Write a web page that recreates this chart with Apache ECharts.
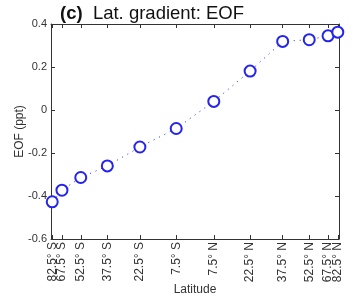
<!DOCTYPE html>
<html>
<head>
<meta charset="utf-8">
<script src="https://cdn.jsdelivr.net/npm/echarts@6/dist/echarts.min.js"></script>
<style>html,body{margin:0;padding:0;background:#fff}#c{width:362px;height:299px}</style>
</head>
<body>
<div id="c"></div>
<script>
const latitudes = [-82.5, -67.5, -52.5, -37.5, -22.5, -7.5, 7.5, 22.5, 37.5, 52.5, 67.5, 82.5];
const latLabels = ['82.5° S', '67.5° S', '52.5° S', '37.5° S', '22.5° S', '7.5° S',
                   '7.5° N', '22.5° N', '37.5° N', '52.5° N', '67.5° N', '82.5° N'];
const eofValues = [-0.427, -0.373, -0.314, -0.260, -0.172, -0.086, 0.040, 0.181, 0.319, 0.327, 0.345, 0.362];
const yTicks = [-0.6, -0.4, -0.2, 0, 0.2, 0.4];

const FONT = 'Liberation Sans, Arial, Helvetica, sans-serif';
const AX = '#333';
const BLUE = '#2424ee';

// x positions: area-weighted latitude scale (sine of latitude)
const xPos = latitudes.map(l => Math.sin(l * Math.PI / 180));
const labelFor = v => {
  let best = 0;
  xPos.forEach((p, i) => { if (Math.abs(p - v) < Math.abs(xPos[best] - v)) best = i; });
  return latLabels[best];
};
const innerPos = xPos.slice(1, -1);
const edgePos = [xPos[0], xPos[xPos.length - 1]];

const labelStyle = {
  show: true, rotate: 90, margin: 3, hideOverlap: false,
  fontFamily: FONT, fontSize: 12, color: '#333',
  formatter: v => labelFor(v)
};

const chart = echarts.init(document.getElementById('c'), null, {renderer: 'canvas'});
chart.setOption({
  animation: false,
  backgroundColor: '#fff',
  title: {
    text: '{b|(c)}  Lat. gradient: EOF',
    left: 55, top: -1,
    textStyle: {
      fontFamily: FONT, fontSize: 18.5, fontWeight: 'normal', color: '#111',
      rich: { b: { fontFamily: FONT, fontSize: 18.5, fontWeight: 'bold', color: '#111' } }
    }
  },
  grid: { left: 51, right: 23, top: 24, bottom: 60, containLabel: false, outerBoundsMode: 'none' },
  xAxis: [{
    type: 'value', min: -1, max: 1, position: 'bottom',
    name: 'Latitude', nameLocation: 'middle', nameGap: 45, nameMoveOverlap: false,
    nameTextStyle: { fontFamily: FONT, fontSize: 12, color: '#333' },
    axisLine: { show: true, onZero: false, lineStyle: { color: AX, width: 1 } },
    axisTick: { show: true, inside: true, length: 4, customValues: xPos, lineStyle: { color: AX } },
    axisLabel: Object.assign({ customValues: innerPos }, labelStyle),
    splitLine: { show: false }
  }, {
    type: 'value', min: -1, max: 1, position: 'top',
    axisLine: { show: true, onZero: false, lineStyle: { color: AX, width: 1 } },
    axisTick: { show: true, inside: true, length: 4, customValues: xPos, lineStyle: { color: AX } },
    axisLabel: { show: false },
    splitLine: { show: false }
  }, {
    type: 'value', min: -1, max: 1, position: 'bottom', offset: 0,
    axisLine: { show: false, onZero: false },
    axisTick: { show: false },
    axisLabel: Object.assign({ customValues: edgePos, showMinLabel: true, showMaxLabel: true }, labelStyle),
    splitLine: { show: false }
  }],
  yAxis: [{
    type: 'value', min: -0.6, max: 0.4, interval: 0.2,
    name: 'EOF (ppt)', nameLocation: 'middle', nameGap: 25, nameMoveOverlap: false,
    nameTextStyle: { fontFamily: FONT, fontSize: 12, color: '#333' },
    axisLine: { show: true, onZero: false, lineStyle: { color: AX, width: 1 } },
    axisTick: { show: true, inside: true, length: 4, lineStyle: { color: AX } },
    axisLabel: {
      fontFamily: FONT, fontSize: 11, color: '#333', margin: 4,
      formatter: v => String(+v.toFixed(1))
    },
    splitLine: { show: false }
  }, {
    type: 'value', min: -0.6, max: 0.4, interval: 0.2, position: 'right',
    axisLine: { show: true, onZero: false, lineStyle: { color: AX, width: 1 } },
    axisTick: { show: true, inside: true, length: 4, lineStyle: { color: AX } },
    axisLabel: { show: false },
    splitLine: { show: false }
  }],
  series: [{
    type: 'line',
    xAxisIndex: 0, yAxisIndex: 0,
    data: xPos.map((x, i) => [x, eofValues[i]]),
    symbol: 'circle', symbolSize: 11, showAllSymbol: true,
    lineStyle: { color: BLUE, width: 1, type: [1, 5] },
    itemStyle: { color: '#fff', borderColor: BLUE, borderWidth: 2 },
    z: 5
  }]
});
</script>
</body>
</html>
